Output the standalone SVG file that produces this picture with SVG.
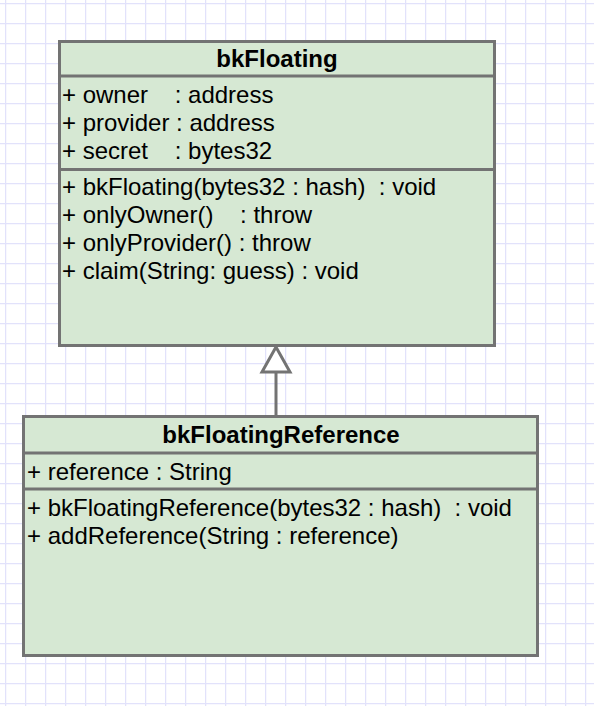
<svg xmlns="http://www.w3.org/2000/svg" width="594" height="706" viewBox="0 0 594 706">
<style>
.box{fill:#d6e8d3;stroke:#737373;stroke-width:3}
.div{stroke:#737373;stroke-width:3;fill:none}
.t{font-family:"Liberation Sans",Arial,Helvetica,sans-serif;font-size:24px;fill:#000}
.h{font-weight:bold;text-anchor:middle}
.edge{stroke:#737373;stroke-width:3;fill:none}
</style>
<defs>
<pattern id="grid" x="5" y="3" width="20" height="20" patternUnits="userSpaceOnUse">
<path d="M0.5 0V20M0 0.5H20" stroke="#e2e2fb" stroke-width="1.5" fill="none"/>
</pattern>
</defs>
<rect width="594" height="706" fill="#ffffff"/>
<rect width="594" height="706" fill="url(#grid)"/>
<g id="connectors">
<path class="edge" d="M276 372V416"/>
<polygon points="276,347 262,372 290,372" fill="#ffffff" stroke="#737373" stroke-width="3"/>
</g>
<g id="bkFloating">
<rect class="box" x="59.5" y="41.5" width="435" height="304"/>
<path class="div" d="M59.5 76H494.5M59.5 169.5H494.5"/>
<text class="t h" x="277" y="67">bkFloating</text>
<text class="t" x="62" y="103" xml:space="preserve">+ owner    : address</text>
<text class="t" x="62" y="131" xml:space="preserve">+ provider : address</text>
<text class="t" x="62" y="159" xml:space="preserve">+ secret    : bytes32</text>
<text class="t" x="62" y="195" xml:space="preserve">+ bkFloating(bytes32 : hash)  : void</text>
<text class="t" x="62" y="223" xml:space="preserve">+ onlyOwner()    : throw</text>
<text class="t" x="62" y="251" xml:space="preserve">+ onlyProvider() : throw</text>
<text class="t" x="62" y="279" xml:space="preserve">+ claim(String: guess) : void</text>
</g>
<g id="bkFloatingReference">
<rect class="box" x="23.5" y="416.5" width="514" height="239"/>
<path class="div" d="M23.5 453H537.5M23.5 489H537.5"/>
<text class="t h" x="281" y="443">bkFloatingReference</text>
<text class="t" x="27" y="480" xml:space="preserve">+ reference : String</text>
<text class="t" x="27" y="516" xml:space="preserve">+ bkFloatingReference(bytes32 : hash)  : void</text>
<text class="t" x="27" y="544" xml:space="preserve">+ addReference(String : reference)</text>
</g>
</svg>
